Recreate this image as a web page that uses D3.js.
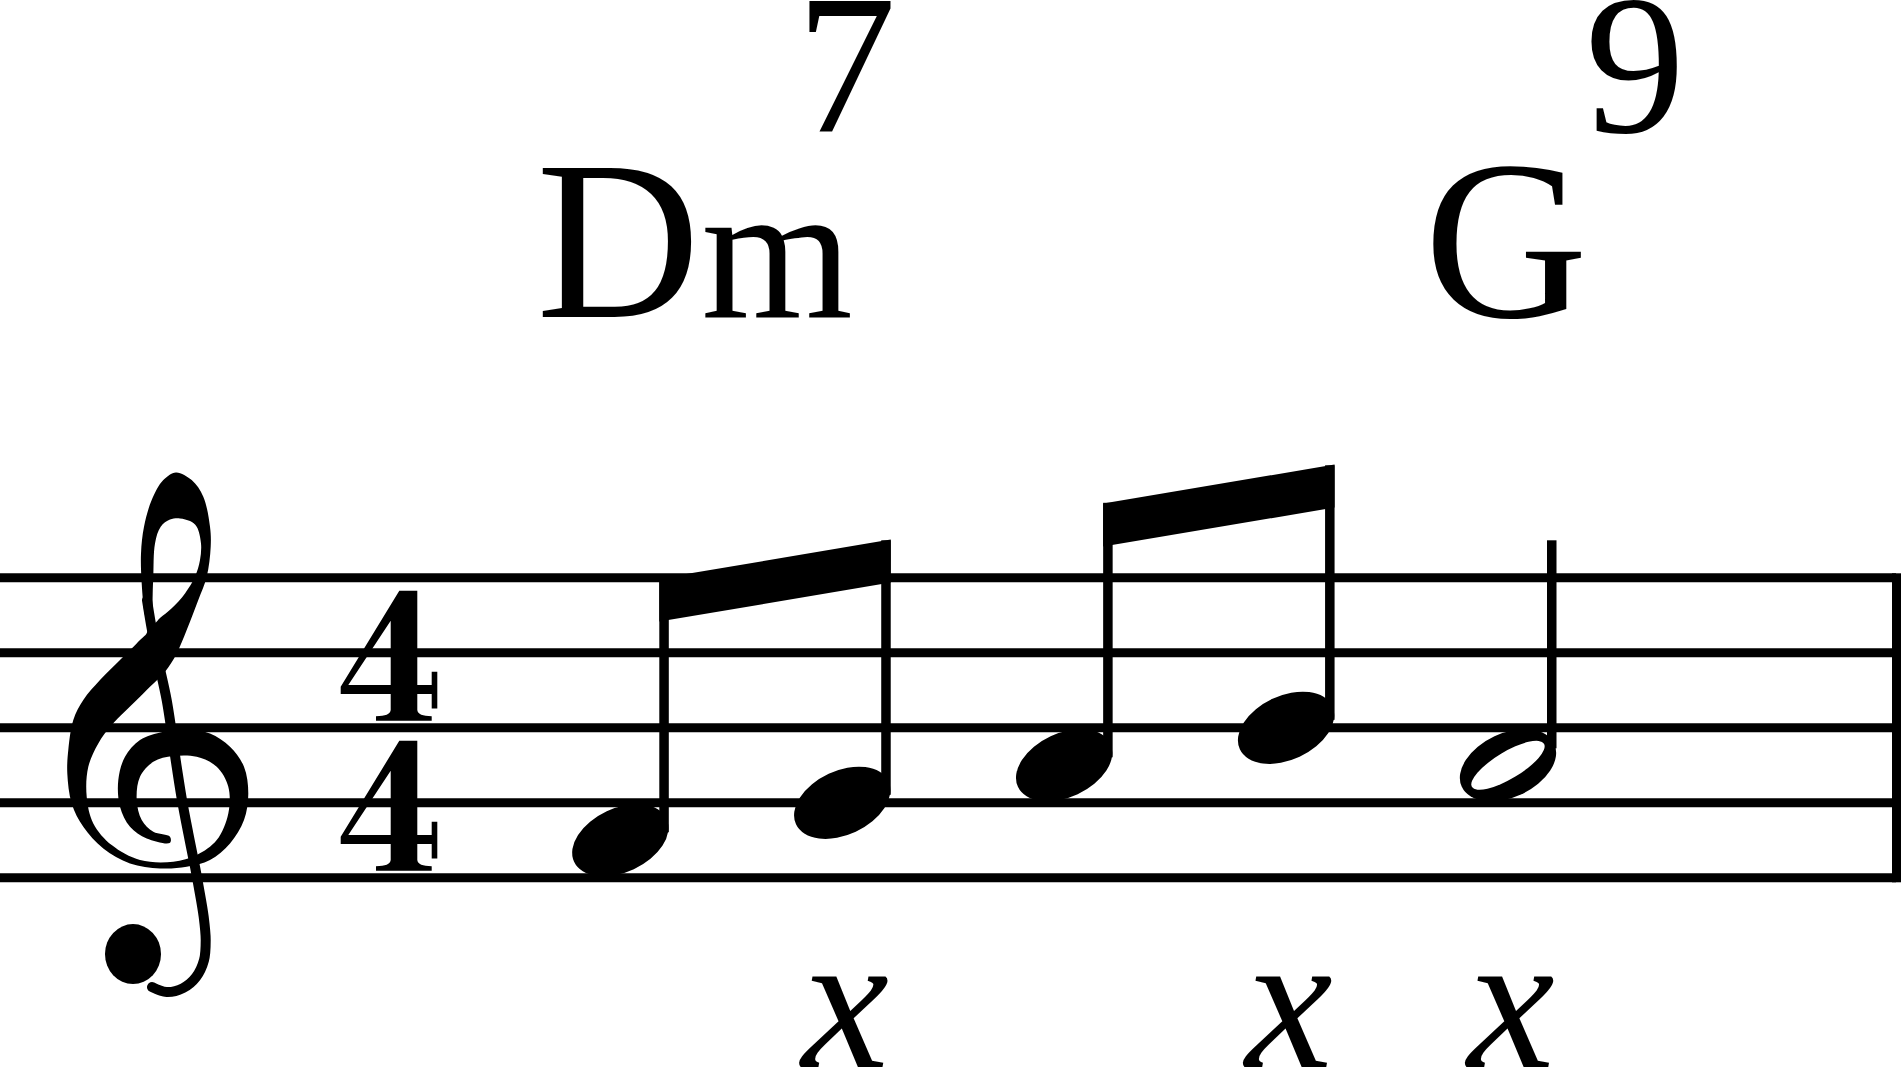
<!DOCTYPE html>
<html><head><meta charset="utf-8">
<script src="https://cdn.jsdelivr.net/npm/d3@7"></script>
<style>html,body{margin:0;padding:0;background:#fff;overflow:hidden}</style>
</head><body>
<script>
// ---------------- data ----------------
const staffLinePositions = [0, 2, 4, 6, 8];          // staff steps of the five lines (E4 G4 B4 D5 F5)
const noteNames      = ["F4", "G4", "A4", "B4", "A4"];
const noteSteps      = [1, 2, 3, 4, 3];              // steps above the bottom line
const noteBeats      = [0, 0.5, 1, 1.5, 2];
const noteDurations  = [0.5, 0.5, 0.5, 0.5, 2];
const beamGroups     = [[0, 1], [2, 3]];
const chordRoots      = ["D", "G"];
const chordQualities  = ["m", ""];
const chordExtensions = ["7", "9"];
const chordBeats      = [0, 2];
const lyricTexts = ["x", "x", "x"];
const lyricBeats = [0.5, 1.5, 2];
const timeSignature = ["4", "4"];

// ---------------- layout ----------------
const W = 1901, H = 1070;
const ink = "#000";
const svg = d3.select("body").append("svg").attr("width", W).attr("height", H)
  .style("display", "block").style("background", "#fff");

const yStep = d3.scaleLinear().domain([0, 8]).range([877.8, 577.8]);
const xBeat = d3.scaleLinear().domain([0, 2]).range([620.3, 1508]);
const lineW = 9, stemW = 9.5, beamH = 43;
const staffRight = 1896;

const notes = noteSteps.map((s, i) => ({
  name: noteNames[i], step: s, beat: noteBeats[i], dur: noteDurations[i],
  beamed: beamGroups.some(g => g.includes(i))
}));

// staff lines
svg.append("g").selectAll("line").data(staffLinePositions).join("line")
  .attr("x1", 0).attr("x2", staffRight)
  .attr("y1", d => yStep(d)).attr("y2", d => yStep(d))
  .attr("stroke", ink).attr("stroke-width", lineW);

// final barline
svg.append("rect")
  .attr("x", W - 9).attr("width", 9)
  .attr("y", yStep(8) - lineW / 2).attr("height", yStep(0) - yStep(8) + lineW)
  .attr("fill", ink);

// ---------------- treble clef glyph (outline in reference units, anchored on the G line) ----------------
const CLEF_G = 802.7;
const clefSpiral = [[176,472.3],[191.7,480],[203.3,496.7],[210,526.7],[210.7,546.7],[206.7,576.7],[198.3,600],[186.7,630],[176.7,653.3],[165,671.7],[150,686.7],[136.7,700],[111.7,725],[98.3,743.3],[88.3,766.7],[86.7,796.7],[93.3,823.3],[111.7,845],[140,860],[173.3,861.7],[196.7,855],[216.7,840],[228.3,813.3],[228.3,786.7],[216.7,766.7],[196.7,756.7],[173.3,756],[153.3,761.7],[140,776.7],[136.7,800],[141.7,820],[153.3,831.7],[170,836.7],[170,842.7],[146.7,838.3],[130,826.7],[120,806.7],[118.3,780],[125,756.7],[140,740],[163.3,731.7],[186.7,730],[210,733.3],[230,746.7],[244,766.7],[248.3,793.3],[244,820],[230,843.3],[210,860],[186.7,866.7],[160,868.3],[130,863.3],[103.3,848.3],[83.3,826.7],[71.7,803.3],[67.3,773.3],[68.3,750],[73.3,720],[83.3,700],[100,680],[120,660],[140,640],[147.3,631.7],[144,610],[141.7,583.3],[141,553.3],[144,526.7],[151.7,500],[163.3,480]];
const clefHole = [[180,518.3],[190,521],[196.7,526.7],[201,543.3],[200,560],[195,576.7],[185,593.3],[172,608],[160,618],[154.5,623],[152.7,606],[152.7,593.3],[153.3,576.7],[155,543.3],[160.7,526.7],[170,519.5]];
const clefLine = [[147,600],[152,630],[158,660],[166.7,700],[176.7,766.7],[182,800],[188.3,833.3],[195,866.7],[198.7,886.7],[203.7,916.7],[205.7,940],[204,960],[196,977],[183,988],[166.7,992],[152,987]];

const clefG = svg.append("g").attr("transform", `translate(0,${yStep(2) - CLEF_G})`);
const closed = d3.line().curve(d3.curveCatmullRomClosed.alpha(0.5));
const open = d3.line().curve(d3.curveCatmullRom.alpha(0.5));
clefG.append("path").attr("d", closed(clefSpiral) + closed(clefHole))
  .attr("fill", ink).attr("fill-rule", "evenodd");
clefG.append("path").attr("d", open(clefLine))
  .attr("fill", "none").attr("stroke", ink).attr("stroke-width", 10).attr("stroke-linecap", "round");
clefG.append("ellipse").attr("cx", 133).attr("cy", 954).attr("rx", 28).attr("ry", 30).attr("fill", ink);

// ---------------- time signature ----------------
const tsX = 340;
const fourPath = "M59.3,-62 L77.3,-62 L77.3,32.3 L91.7,32.3 L91.7,19 L97.3,19 L97.3,55.6 L91.7,55.6 L91.7,41.3 L77.3,41.3 L77.3,57.3 Q78,63.5 91.7,63.5 L91.7,68 L36,68 L36,63.5 Q50,63.5 50.7,57.3 L50.7,41.3 L0.7,41.3 L0.7,34 Z M50.7,-32 L50.7,32.3 L8.3,32.3 Z";
svg.append("g").selectAll("path").data(timeSignature).join("path")
  .attr("d", d => d === "4" ? fourPath : "")
  .attr("transform", (d, i) => `translate(${tsX},${yStep(i === 0 ? 6 : 2)})`)
  .attr("fill", ink).attr("fill-rule", "evenodd");

// ---------------- notes ----------------
const headX = n => xBeat(n.beat);
const headY = n => yStep(n.step);
const stemLeft = n => headX(n) + 39;
const stemTopStep = n => n.step + (n.beamed ? 7 : 6);
const stemBottom = n => headY(n) - (n.dur >= 2 ? 17 : 8);

// stems
svg.append("g").selectAll("rect").data(notes).join("rect")
  .attr("x", stemLeft).attr("width", stemW)
  .attr("y", n => yStep(stemTopStep(n)))
  .attr("height", n => stemBottom(n) - yStep(stemTopStep(n)))
  .attr("fill", ink);

// beams
svg.append("g").selectAll("path").data(beamGroups).join("path")
  .attr("d", g => {
    const a = notes[g[0]], b = notes[g[g.length - 1]];
    const xa = stemLeft(a), xb = stemLeft(b) + stemW;
    const ca = xa + stemW / 2, cb = xb - stemW / 2;
    const ya0 = yStep(stemTopStep(a)), yb0 = yStep(stemTopStep(b));
    const k = (yb0 - ya0) / (cb - ca);
    const ya = ya0 + k * (xa - ca), yb = ya0 + k * (xb - ca);
    return `M${xa},${ya} L${xb},${yb} L${xb},${yb + beamH} L${xa},${ya + beamH} Z`;
  })
  .attr("fill", ink);

// note heads
const heads = svg.append("g").selectAll("g").data(notes).join("g")
  .attr("transform", n => `translate(${headX(n)},${headY(n)})`);
heads.append("ellipse").attr("rx", 51).attr("ry", 32).attr("transform", "rotate(-25)").attr("fill", ink);
heads.filter(n => n.dur >= 2).append("ellipse")
  .attr("rx", 42).attr("ry", 13.5).attr("transform", "rotate(-31)").attr("fill", "#fff");

// ---------------- chord names ----------------
const serif = "'Liberation Serif', 'Times New Roman', serif";
const supOffset = [260, 161];
const chords = chordRoots.map((r, i) => ({root: r, quality: chordQualities[i], ext: chordExtensions[i], beat: chordBeats[i]}));
const chordX = c => xBeat(c.beat) - 84;
const chordG = svg.append("g").attr("font-family", serif).attr("fill", ink);
const ct = chordG.selectAll("text.base").data(chords).join("text").attr("class", "base")
  .attr("x", chordX).attr("y", 317.3);
ct.append("tspan").attr("font-size", 227).text(c => c.root);
ct.filter(c => c.quality).append("tspan").attr("font-size", 195).attr("dx", 1).text(c => c.quality);
chordG.selectAll("text.ext").data(chords).join("text").attr("class", "ext")
  .attr("x", (c, i) => chordX(c) + supOffset[i]).attr("y", 132)
  .attr("font-size", 200).text(c => c.ext);

// ---------------- lyrics ----------------
svg.append("g").selectAll("text").data(lyricTexts).join("text")
  .attr("x", (d, i) => xBeat(lyricBeats[i]) + 3).attr("y", 1067)
  .attr("text-anchor", "middle").attr("font-family", serif).attr("font-style", "italic")
  .attr("font-size", 197).attr("fill", ink).text(d => d);
</script>
</body></html>
